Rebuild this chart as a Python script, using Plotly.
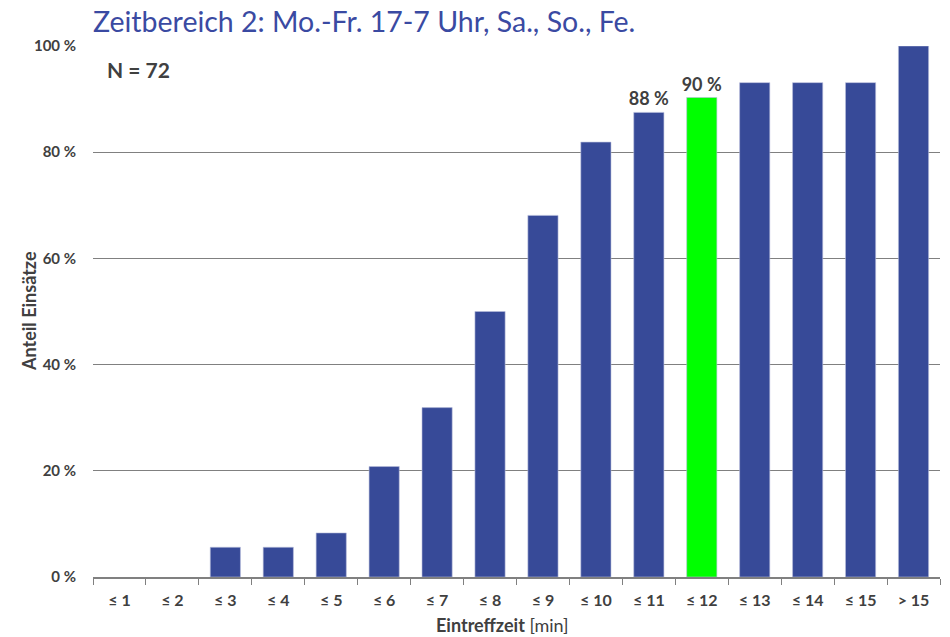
import plotly.graph_objects as go

# Cumulative share of deployments reached within each response time (N = 72)
categories = ["≤ 1", "≤ 2", "≤ 3", "≤ 4", "≤ 5", "≤ 6", "≤ 7", "≤ 8",
              "≤ 9", "≤ 10", "≤ 11", "≤ 12", "≤ 13", "≤ 14", "≤ 15", "> 15"]
share_pct = [0.0, 0.0, 5.6, 5.6, 8.3, 20.8, 31.9, 50.0,
             68.1, 81.9, 87.5, 90.3, 93.1, 93.1, 93.1, 100.0]
labelled = ["≤ 11", "≤ 12"]
highlight = "≤ 12"
n_total = 72

y_ticks = [0, 20, 40, 60, 80, 100]
y_ticktext = [f"{v} %" for v in y_ticks]

BLUE = "#374a98"
GREEN = "#00ff00"
TEXT = "#404040"
FONT = "Lato"
W, H = 950, 637

colors = [GREEN if c == highlight else BLUE for c in categories]
outline_w = [0.6 if v > 0 else 0 for v in share_pct]
bar_text = [f"{round(v)} %" if c in labelled else "" for c, v in zip(categories, share_pct)]

fig = go.Figure(go.Bar(
    x=categories,
    y=share_pct,
    marker=dict(color=colors, line=dict(color="#b8bedc", width=outline_w)),
    text=bar_text,
    textposition="outside",
    constraintext="none",
    textfont=dict(family=FONT, size=18, color=TEXT, weight="bold"),
    cliponaxis=False,
    hoverinfo="skip",
))

fig.update_layout(
    width=W, height=H,
    margin=dict(l=93, r=10, t=46, b=60),
    paper_bgcolor="white",
    plot_bgcolor="white",
    bargap=0.43,
    showlegend=False,
    font=dict(family=FONT, color=TEXT),
    title=dict(
        text="Zeitbereich 2: Mo.-Fr. 17-7 Uhr, Sa., So., Fe.",
        font=dict(family=FONT, size=28.5, color="#3a4aa2"),
        x=93 / W, xanchor="left",
        y=1 - 22 / H, yanchor="middle",
    ),
    xaxis=dict(
        type="category",
        showline=True, linecolor="#808080", linewidth=1.5,
        ticks="outside", tickson="boundaries", ticklen=6,
        tickcolor="#808080", tickwidth=1,
        ticklabelstandoff=8,
        tickfont=dict(family=FONT, size=16, color=TEXT, weight="bold"),
    ),
    yaxis=dict(
        range=[0, 100],
        tickvals=y_ticks, ticktext=y_ticktext,
        showgrid=True, gridcolor="#808080", gridwidth=1,
        zeroline=False,
        ticks="", ticklabelstandoff=16,
        tickfont=dict(family=FONT, size=15, color=TEXT, weight="bold"),
    ),
    annotations=[
        dict(
            text=f"<b>N = {n_total}</b>",
            xref="paper", yref="paper",
            x=0.014, y=0.955, xanchor="left", yanchor="middle",
            showarrow=False,
            font=dict(family=FONT, size=21, color=TEXT),
        ),
        # axis titles placed as annotations so they sit close to the tick labels
        dict(
            text="<b>Eintreffzeit</b> [min]",
            xref="paper", yref="paper",
            x=(502 - 93) / (W - 93 - 10), y=-(625 - 577) / (577 - 46),
            xanchor="center", yanchor="middle",
            showarrow=False,
            font=dict(family=FONT, size=18, color=TEXT),
        ),
        dict(
            text="<b>Anteil Einsätze</b>",
            xref="paper", yref="paper",
            x=-(93 - 29) / (W - 93 - 10), y=(577 - 311) / (577 - 46),
            xanchor="center", yanchor="middle", textangle=-90,
            showarrow=False,
            font=dict(family=FONT, size=18, color=TEXT),
        ),
    ],
)

fig.write_html("out.html")
